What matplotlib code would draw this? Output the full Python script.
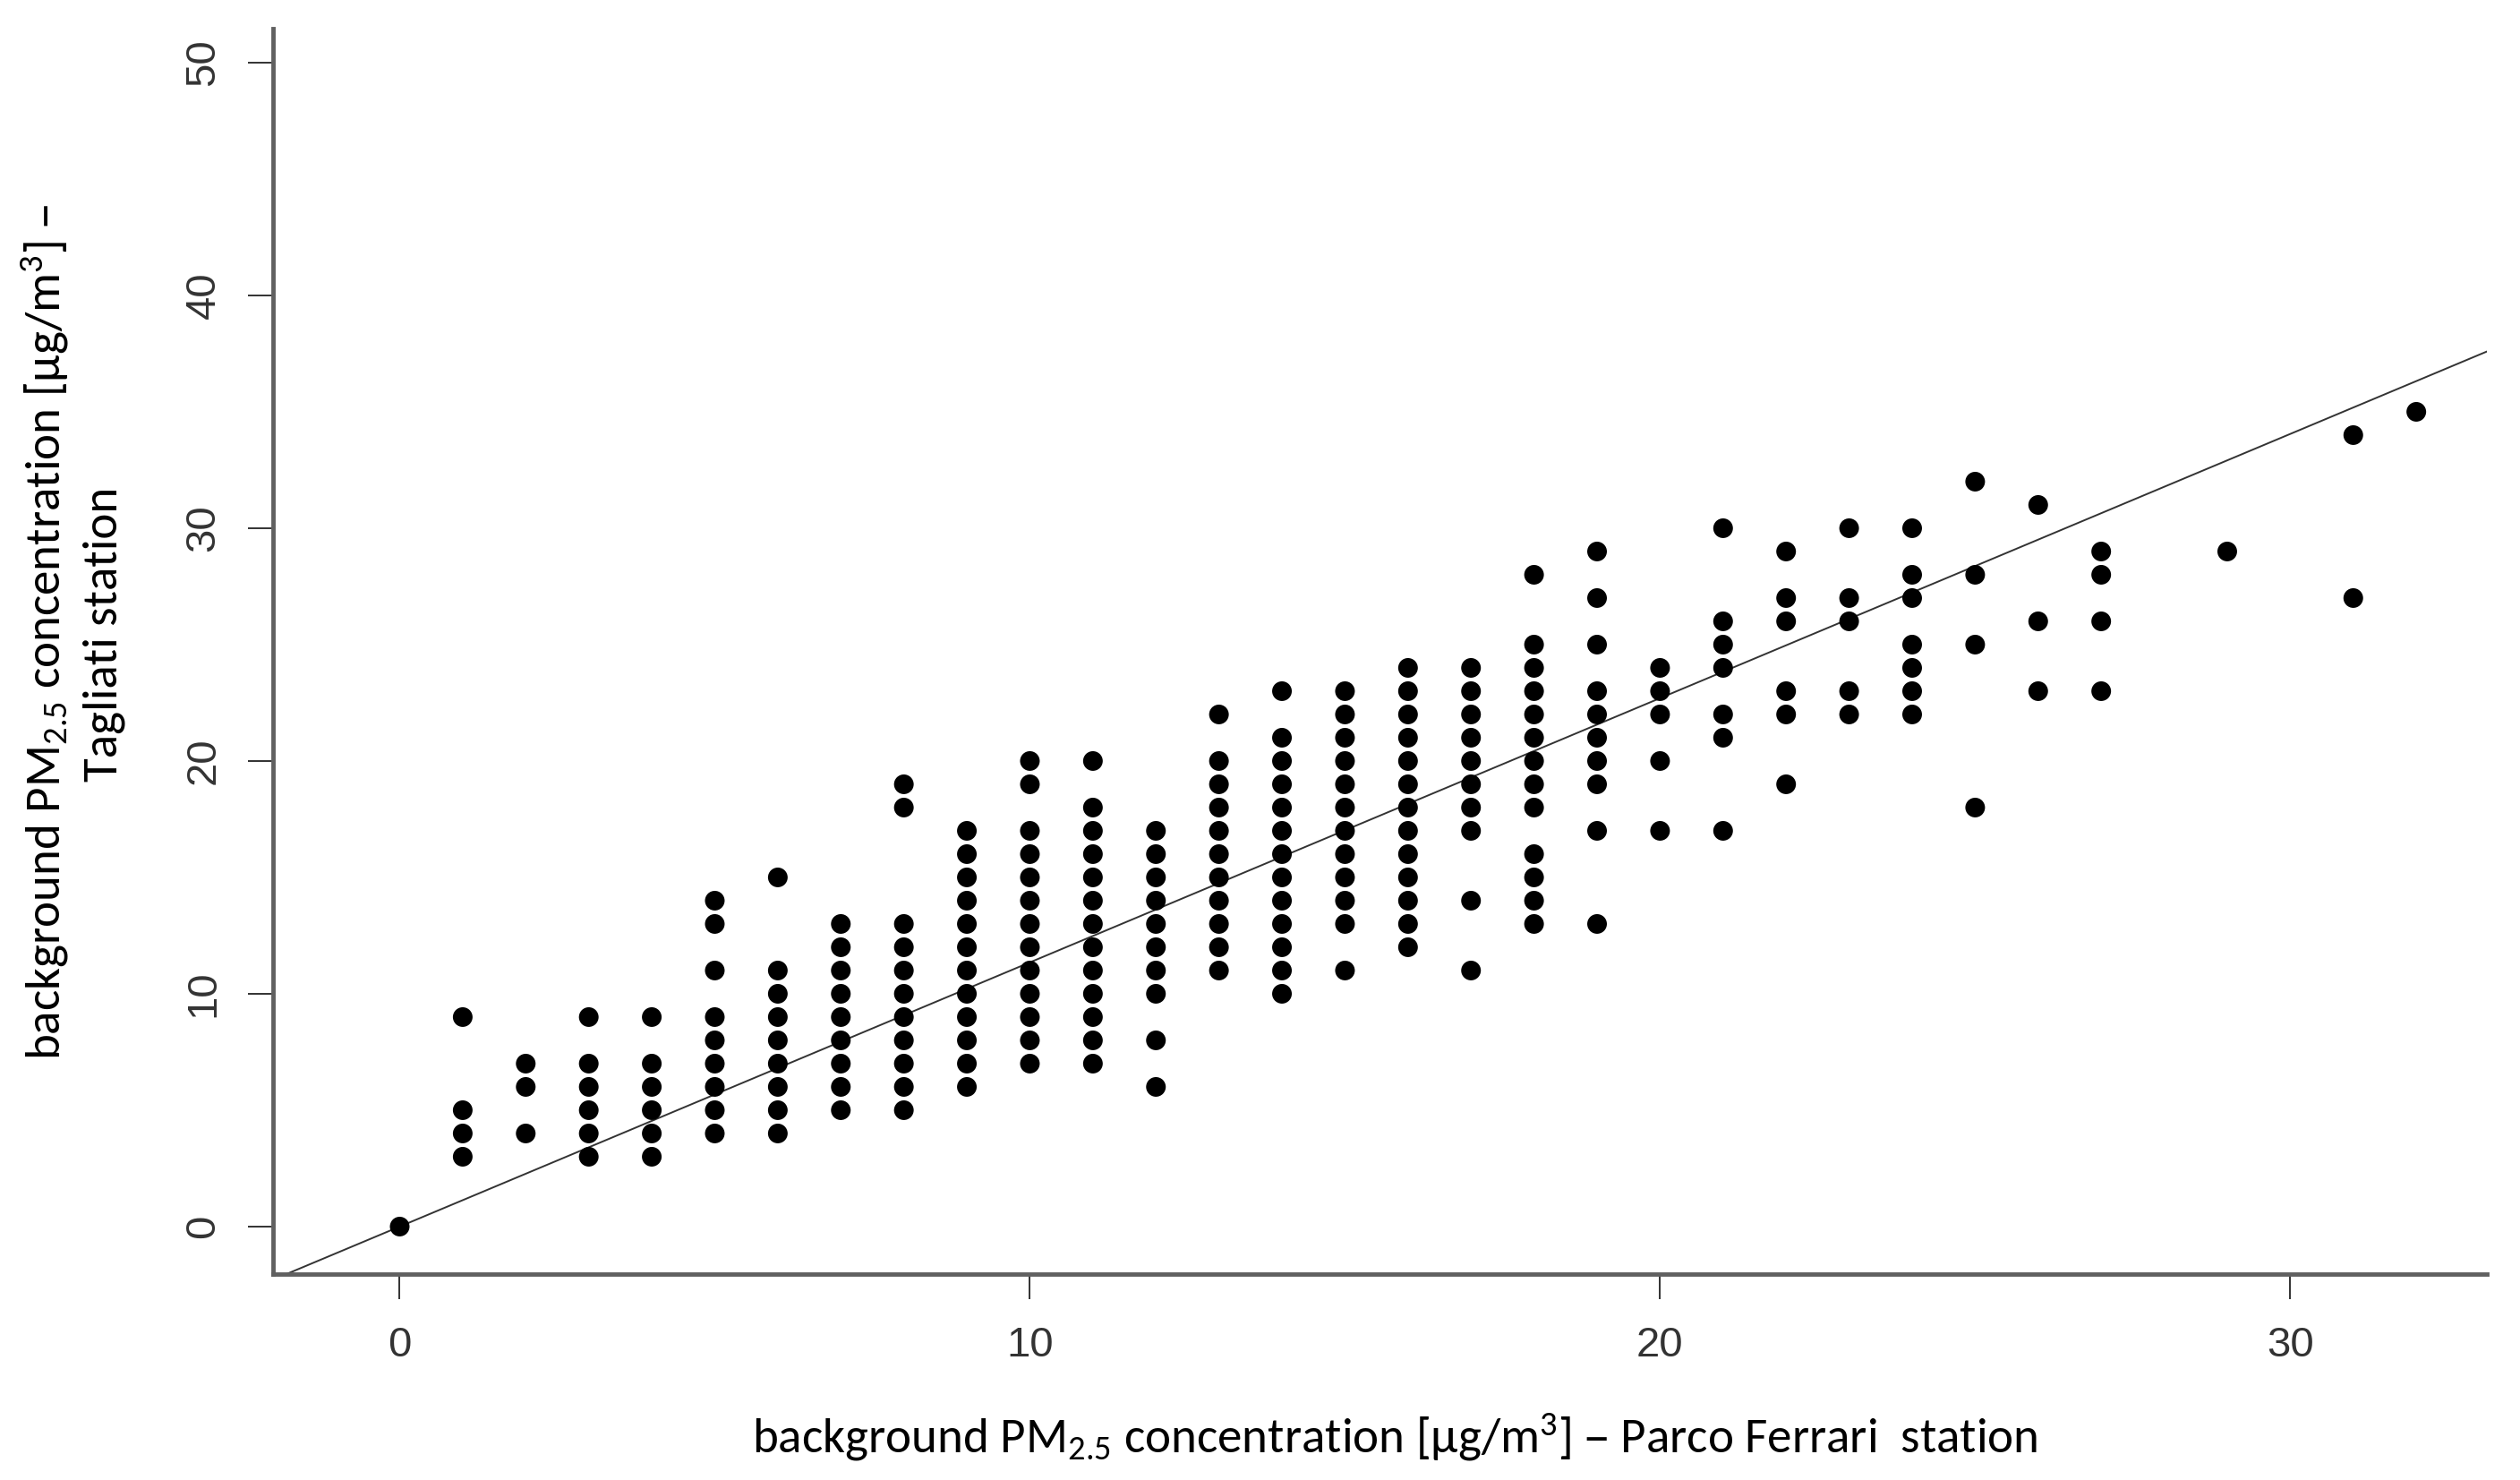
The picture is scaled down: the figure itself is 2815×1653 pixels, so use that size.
import matplotlib
matplotlib.use("Agg")
import matplotlib.pyplot as plt
import numpy as np

# Parco Ferrari values (x) and the Tagliati values observed at each one (y)
parco_ferrari = [0, 1, 2, 3, 4, 5, 6, 7, 8, 9, 10, 11, 12, 13, 14, 15, 16,
                 17, 18, 19, 20, 21, 22, 23, 24, 25, 26, 27, 29, 31, 32]
tagliati = [
    [0],
    [9, 5, 4, 3],
    [7, 6, 4],
    [9, 7, 6, 5, 4, 3],
    [9, 7, 6, 5, 4, 3],
    [14, 13, 11, 9, 8, 7, 6, 5, 4],
    [15, 11, 10, 9, 8, 7, 6, 5, 4],
    [13, 12, 11, 10, 9, 8, 7, 6, 5],
    [19, 18, 13, 12, 11, 10, 9, 8, 7, 6, 5],
    [17, 16, 15, 14, 13, 12, 11, 10, 9, 8, 7, 6],
    [20, 19, 17, 16, 15, 14, 13, 12, 11, 10, 9, 8, 7],
    [20, 18, 17, 16, 15, 14, 13, 12, 11, 10, 9, 8, 7],
    [17, 16, 15, 14, 13, 12, 11, 10, 8, 6],
    [22, 20, 19, 18, 17, 16, 15, 14, 13, 12, 11],
    [23, 21, 20, 19, 18, 17, 16, 15, 14, 13, 12, 11, 10],
    [23, 22, 21, 20, 19, 18, 17, 16, 15, 14, 13, 11],
    [24, 23, 22, 21, 20, 19, 18, 17, 16, 15, 14, 13, 12],
    [24, 23, 22, 21, 20, 19, 18, 17, 14, 11],
    [28, 25, 24, 23, 22, 21, 20, 19, 18, 16, 15, 14, 13],
    [29, 27, 25, 23, 22, 21, 20, 19, 17, 13],
    [24, 23, 22, 20, 17],
    [30, 26, 25, 24, 22, 21, 17],
    [29, 27, 26, 23, 22, 19],
    [30, 27, 26, 23, 22],
    [30, 28, 27, 25, 24, 23, 22],
    [32, 28, 25, 18],
    [31, 26, 23],
    [29, 28, 26, 23],
    [29],
    [34, 27],
    [35],
]

# fitted line
fit_intercept = 0.0
fit_slope = 1.135

x_ticks = [0, 10, 20, 30]
y_ticks = [0, 10, 20, 30, 40, 50]

x_label = "background PM$_{2.5}$ concentration [µg/m$^3$] – Parco Ferrari  station"
y_label_1 = "background PM$_{2.5}$ concentration [µg/m$^3$] –"
y_label_2 = "Tagliati station"

label_font = ["Carlito", "Liberation Sans Narrow", "DejaVu Sans"]
tick_font = ["Liberation Sans", "DejaVu Sans"]

plt.rcParams["font.family"] = label_font
plt.rcParams["mathtext.default"] = "regular"

xs = np.concatenate([[x] * len(ys) for x, ys in zip(parco_ferrari, tagliati)])
ys = np.concatenate(tagliati)

W, H = 2815, 1653
fig = plt.figure(figsize=(W / 100, H / 100), dpi=100)
ax = fig.add_axes([305 / W, 1 - 1423 / H, (2778 - 305) / W, (1423 - 32) / H])

ax.scatter(xs, ys, s=250, color="black", edgecolors="none", zorder=3)
ax.axline((0, fit_intercept), slope=fit_slope, color="#333333", lw=1.4, zorder=2)

ax.set_xlim(-2.01, 33.12)
ax.set_ylim(-2.04, 51.46)

for side in ["top", "right"]:
    ax.spines[side].set_visible(False)
for side in ["left", "bottom"]:
    ax.spines[side].set_color("#606060")
    ax.spines[side].set_linewidth(3.5)

ax.set_xticks(x_ticks)
ax.set_yticks(y_ticks)
ax.tick_params(length=20, width=1.3, color="#222222", labelcolor="#333333",
               labelsize=34)
ax.tick_params(axis="x", pad=22)
ax.tick_params(axis="y", pad=20)
for lab in ax.get_xticklabels() + ax.get_yticklabels():
    lab.set_family(tick_font)
for lab in ax.get_yticklabels():
    lab.set_rotation(90)
    lab.set_va("center")

fig.text(1558 / W, 1 - 1623 / H, x_label,
         ha="center", va="baseline", fontsize=39.6)
fig.text(68 / W, 1 - 706 / H, y_label_1,
         ha="center", va="baseline", rotation=90, rotation_mode="anchor",
         fontsize=39.6)
fig.text(130 / W, 1 - 708 / H, y_label_2,
         ha="center", va="baseline", rotation=90, rotation_mode="anchor",
         fontsize=39.6)

fig.savefig("out.png", dpi=100)
